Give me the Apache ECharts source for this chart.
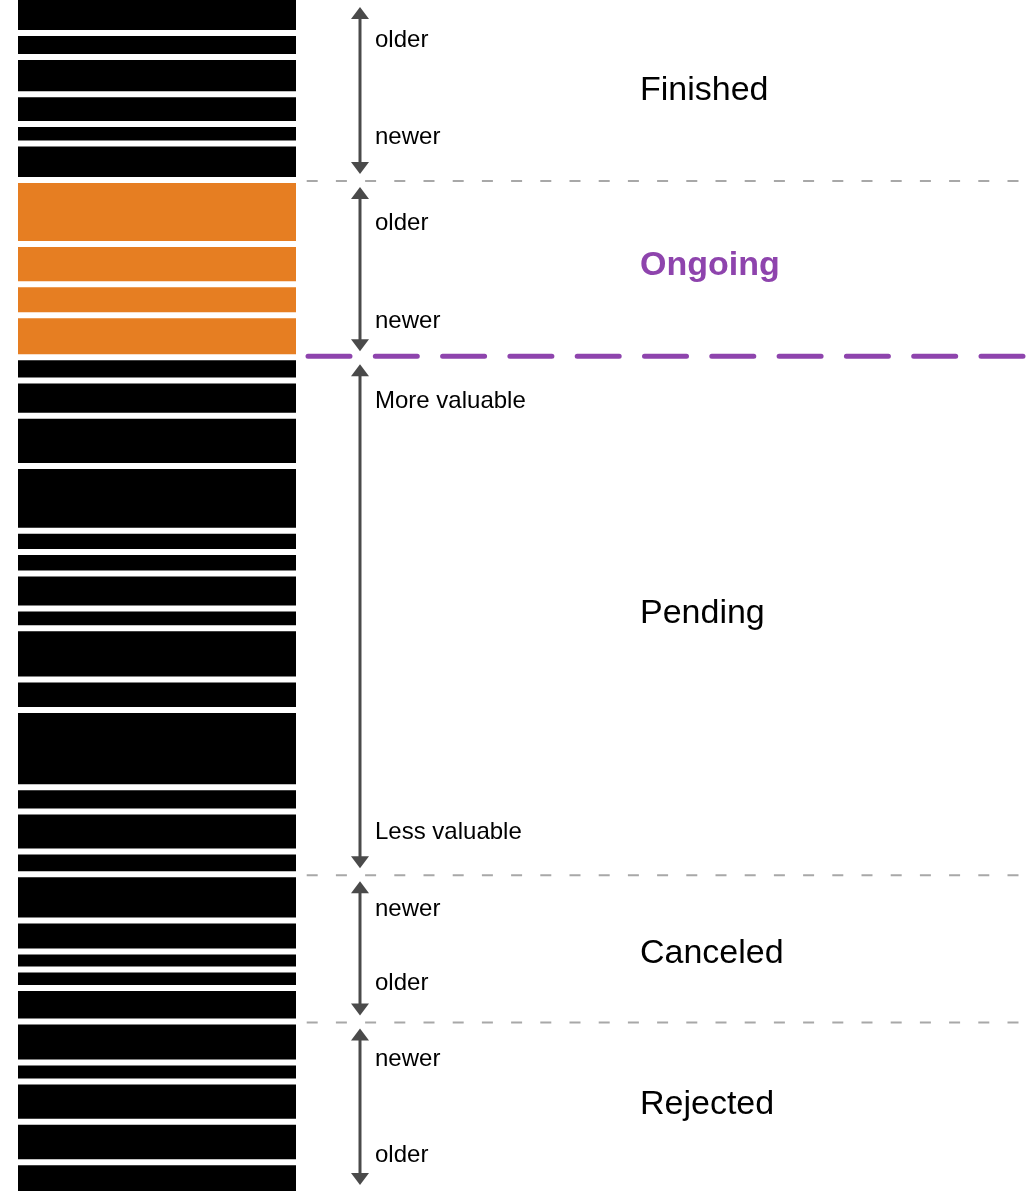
<!DOCTYPE html>
<html lang="en">
<head>
    <meta charset="UTF-8">
    <title>Queue</title>
    <script src="https://cdn.jsdelivr.net/npm/echarts@6/dist/echarts.min.js"></script>
    <style>
        *{
            padding:0;
            margin:0;
            box-sizing: border-box;
        }
        body{
            background:#fff;
        }
        #main{
            width:1028px;
            height:1191px;
        }
    </style>
</head>
<body>
    <div id="main"></div>
    <script>
        // block sizes, top to bottom, one array per group
        var finished=[30,18,31.3,23.7,13.6,30.3]
        var ongoing=[58,34.3,25,36]
        var pending=[17.3,29.3,44.3,58.7,15.3,15.4,29,13.7,45.3,24.4,71.3,18.4,34,16.6]
        var canceled=[40.3,25,12,12.4,27.6]
        var rejected=[35,13,34.3,34.4,25.7]

        var groups=[finished,ongoing,pending,canceled,rejected]
        var groupNames=["Finished","Ongoing","Pending","Canceled","Rejected"]
        var topLabels=["older","older","More valuable","newer","newer"]
        var bottomLabels=["newer","newer","Less valuable","older","older"]

        var GAP=6
        var TOTAL=1191
        var BAR_X0=18,BAR_X1=296
        var ARROW_X=360,LABEL_X=375,TITLE_X=640
        var ACTIVE=1 // the ongoing group
        var FONT='"Liberation Sans", Arial, sans-serif'
        // label nudges (px) per group: below the top edge, above the bottom edge, from the middle
        var topNudge=[40,43,44,35,38]
        var bottomNudge=[43,36,42,38,36]
        var titleNudge=[1,-3,-2,6,-2]

        // stack the blocks and find where each group ends
        var blocks=[]
        var sections=[]
        var pos=0
        groups.forEach(function(g,gi){
            var start=gi===0?0:pos-GAP/2
            g.forEach(function(h){
                blocks.push([pos,pos+h,gi])
                pos+=h+GAP
            })
            var end=gi===groups.length-1?TOTAL:pos-GAP/2
            sections.push([start,end,gi])
        })

        var myCharts=echarts.init(document.getElementById("main"))

        function renderBlock(params,api){
            var p0=api.coord([BAR_X0,api.value(0)])
            var p1=api.coord([BAR_X1,api.value(1)])
            return {
                type:"rect",
                shape:{x:p0[0],y:p0[1],width:p1[0]-p0[0],height:p1[1]-p0[1]},
                style:{fill:api.value(2)===ACTIVE?"#e67e22":"#000"}
            }
        }

        function arrowHead(x,y,dir){
            // dir 1 points down, -1 points up
            return {
                type:"polygon",
                shape:{points:[[x,y],[x-9,y-12*dir],[x+9,y-12*dir]]},
                style:{fill:"#4a4a4a"}
            }
        }

        function text(str,x,y,size,bold,color){
            return {
                type:"text",
                style:{
                    text:str,x:x,y:y,
                    fontSize:size,fontFamily:FONT,fontWeight:bold?"bold":"normal",
                    fill:color||"#000",
                    verticalAlign:"middle"
                }
            }
        }

        function renderSection(params,api){
            var gi=api.value(2)
            var top=api.coord([ARROW_X,api.value(0)])
            var bot=api.coord([ARROW_X,api.value(1)])
            var x=top[0]
            var y0=top[1]+7,y1=bot[1]-6
            var lx=api.coord([LABEL_X,0])[0]
            var tx=api.coord([TITLE_X,0])[0]
            var right=api.coord([1028,0])[0]
            var mid=(top[1]+bot[1])/2+titleNudge[gi]
            var children=[
                {type:"line",shape:{x1:x,y1:y0+10,x2:x,y2:y1-10},style:{stroke:"#4a4a4a",lineWidth:3}},
                arrowHead(x,y0,-1),
                arrowHead(x,y1,1),
                text(topLabels[gi],lx,top[1]+topNudge[gi],24),
                text(bottomLabels[gi],lx,bot[1]-bottomNudge[gi],24),
                gi===ACTIVE
                    ?text(groupNames[gi],tx,mid,34,true,"#8e44ad")
                    :text(groupNames[gi],tx,mid,34)
            ]
            // divider under every group except the last
            if(gi<groups.length-1){
                if(gi===ACTIVE){
                    children.push({type:"line",shape:{x1:308,y1:bot[1]-1,x2:right+60,y2:bot[1]-1},
                        style:{stroke:"#8e44ad",lineWidth:5,lineCap:"round",lineDash:[42,25.3]}})
                }else{
                    children.push({type:"line",shape:{x1:306.7,y1:bot[1]+1,x2:right+40,y2:bot[1]+1},
                        style:{stroke:"#a8a8a8",lineWidth:2,lineDash:[11,18.2]}})
                }
            }
            return {type:"group",children:children}
        }

        var option={
            animation:false,
            grid:{left:0,right:0,top:0,bottom:0},
            xAxis:{type:"value",min:0,max:1028,show:false},
            yAxis:{type:"value",min:0,max:TOTAL,inverse:true,show:false},
            series:[
                {
                    type:"custom",
                    renderItem:renderBlock,
                    encode:{x:-1,y:[0,1]},
                    clip:false,
                    data:blocks
                },
                {
                    type:"custom",
                    renderItem:renderSection,
                    encode:{x:-1,y:[0,1]},
                    clip:false,
                    z:3,
                    data:sections
                }
            ]
        }

        myCharts.setOption(option)
        window.onresize=myCharts.resize
    </script>
</body>
</html>
